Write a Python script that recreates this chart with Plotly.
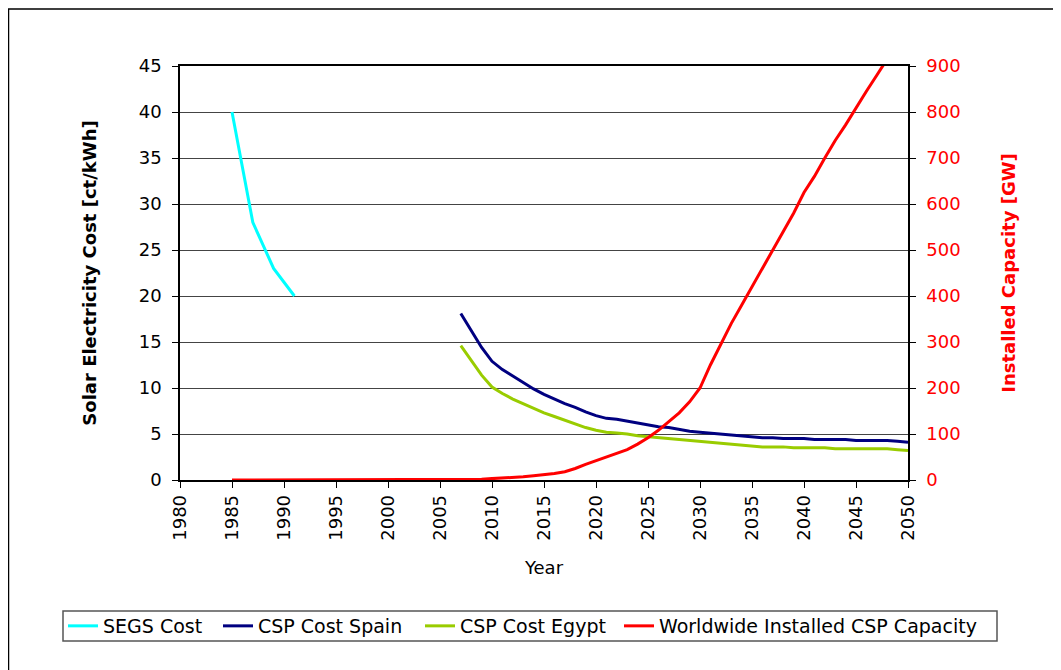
import plotly.graph_objects as go

# ---- data ----
segs_years = [1985, 1987, 1989, 1991]
segs_cost = [40, 28, 23, 20]

csp_years = list(range(2007, 2051))
spain_cost = [18.1, 16.2, 14.4, 12.9, 12.0, 11.3, 10.6, 9.9, 9.3, 8.8,
              8.3, 7.9, 7.4, 7.0, 6.7, 6.6, 6.4, 6.2, 6.0, 5.8,
              5.7, 5.5, 5.3, 5.2, 5.1, 5.0, 4.9, 4.8, 4.7, 4.6,
              4.6, 4.5, 4.5, 4.5, 4.4, 4.4, 4.4, 4.4, 4.3, 4.3,
              4.3, 4.3, 4.2, 4.1]
egypt_cost = [14.6, 13.0, 11.4, 10.1, 9.4, 8.8, 8.3, 7.8, 7.3, 6.9,
              6.5, 6.1, 5.7, 5.4, 5.2, 5.1, 5.0, 4.8, 4.7, 4.6,
              4.5, 4.4, 4.3, 4.2, 4.1, 4.0, 3.9, 3.8, 3.7, 3.6,
              3.6, 3.6, 3.5, 3.5, 3.5, 3.5, 3.4, 3.4, 3.4, 3.4,
              3.4, 3.4, 3.3, 3.2]

cap_years = list(range(1985, 2051))
capacity_gw = [0] * 23 + [0.5, 1.5, 3, 4, 5, 7, 9, 11, 14, 18,
                          25, 34, 42, 50, 57, 66, 78, 92, 108, 126,
                          146, 170, 200, 250, 295, 340, 380, 420, 460, 500,
                          540, 580, 625, 660, 700, 738, 772, 810, 845, 880,
                          915, 950, 985]

x_ticks = list(range(1980, 2051, 5))

FONT = "DejaVu Sans, Arial, sans-serif"

# figure geometry (page body has an 8px margin)
W, H = 1053, 662
L, R, T, B = 172, 900, 58, 472


def px(xp):
    return (xp - L) / (R - L)


def py(yp):
    return (B - yp) / (B - T)


fig = go.Figure()
fig.add_trace(go.Scatter(x=segs_years, y=segs_cost, mode="lines", name="SEGS Cost",
                         line=dict(color="#00FFFF", width=3), legend="legend"))
fig.add_trace(go.Scatter(x=csp_years, y=spain_cost, mode="lines", name="CSP Cost Spain",
                         line=dict(color="#000080", width=3), legend="legend2"))
fig.add_trace(go.Scatter(x=csp_years, y=egypt_cost, mode="lines", name="CSP Cost Egypt",
                         line=dict(color="#99CC00", width=3), legend="legend3"))
fig.add_trace(go.Scatter(x=cap_years, y=capacity_gw, mode="lines",
                         name="Worldwide Installed CSP Capacity",
                         line=dict(color="#FF0000", width=3), yaxis="y2", legend="legend4"))

legend_common = dict(orientation="h", xanchor="left", yanchor="top",
                     bgcolor="rgba(0,0,0,0)", borderwidth=0,
                     font=dict(family=FONT, size=19, color="black"),
                     itemwidth=30)
LEG_TOP = 599

fig.update_layout(
    width=W, height=H,
    margin=dict(l=L, r=W - R, t=T, b=H - B),
    paper_bgcolor="white", plot_bgcolor="white",
    font=dict(family=FONT, size=18, color="black"),
    showlegend=True,
    legend=dict(x=px(55), y=py(LEG_TOP), **legend_common),
    legend2=dict(x=px(210), y=py(LEG_TOP), **legend_common),
    legend3=dict(x=px(412), y=py(LEG_TOP), **legend_common),
    legend4=dict(x=px(611), y=py(LEG_TOP), **legend_common),
    xaxis=dict(range=[1980, 2050], tickvals=x_ticks, ticktext=[str(v) for v in x_ticks],
               tickangle=-90, ticks="outside", ticklen=6, tickcolor="black",
               showline=True, linecolor="black", linewidth=1.5, mirror=True,
               showgrid=False, zeroline=False,
               title=dict(text="Year", font=dict(family=FONT, size=18), standoff=22),
               tickfont=dict(family=FONT, size=18, color="black")),
    yaxis=dict(range=[0, 45], dtick=5, ticks="outside", ticklen=6, tickcolor="black",
               ticklabelstandoff=7,
               showline=True, linecolor="black", linewidth=1.5,
               showgrid=True, gridcolor="#444444", gridwidth=1, zeroline=False,
               tickfont=dict(family=FONT, size=18, color="black"),
               title=dict(text="<b>Solar Electricity Cost [ct/kWh]</b>",
                          font=dict(family=FONT, size=18, color="black"), standoff=37)),
    yaxis2=dict(range=[0, 900], dtick=100, overlaying="y", side="right",
                ticks="outside", ticklen=6, tickcolor="black",
                ticklabelstandoff=7,
                showline=True, linecolor="black", linewidth=1.5,
                showgrid=False, zeroline=False,
                tickfont=dict(family=FONT, size=18, color="#FF0000"),
                title=dict(text="<b>Installed Capacity [GW]</b>",
                           font=dict(family=FONT, size=18, color="#FF0000"), standoff=43)),
    shapes=[
        dict(type="rect", xref="paper", yref="paper",
             x0=px(0.5), x1=px(1070), y0=py(680), y1=py(1),
             line=dict(color="black", width=1.5), fillcolor="rgba(0,0,0,0)",
             layer="below"),
        dict(type="rect", xref="paper", yref="paper",
             x0=px(55), x1=px(989), y0=py(633), y1=py(603),
             line=dict(color="#555555", width=1.5), fillcolor="rgba(0,0,0,0)",
             layer="below"),
    ],
)

fig.write_html("out.html")
